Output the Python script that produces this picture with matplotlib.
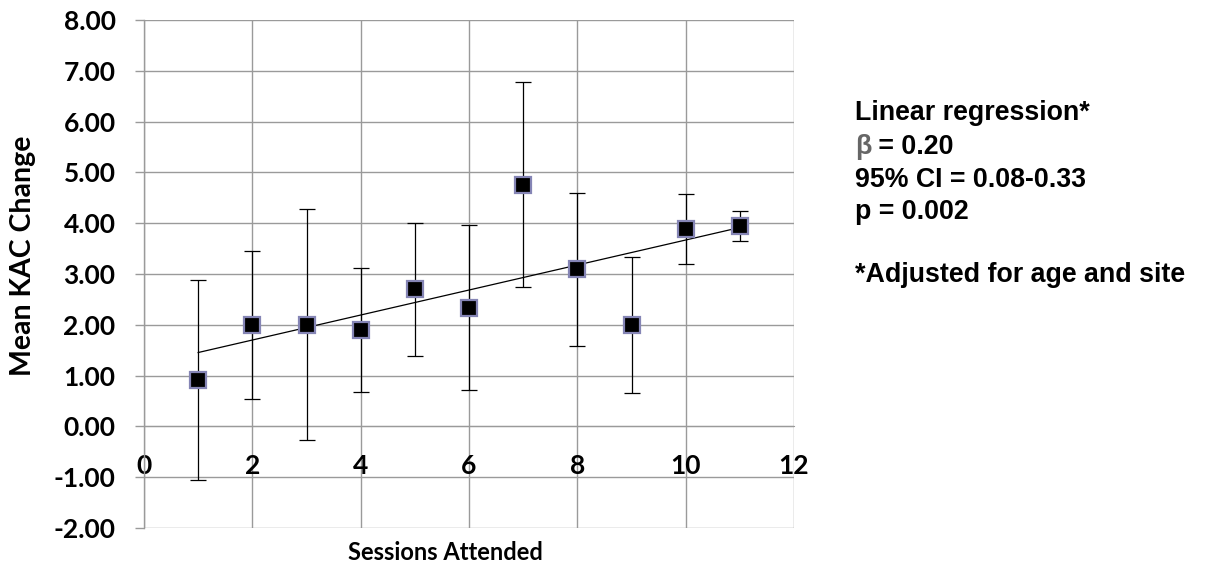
import numpy as np
import matplotlib.pyplot as plt

# sessions attended vs mean KAC change (error bars symmetric)
sessions = [1, 2, 3, 4, 5, 6, 7, 8, 9, 10, 11]
mean_change = [0.92, 2.00, 2.00, 1.90, 2.70, 2.34, 4.76, 3.09, 1.99, 3.89, 3.94]
err = [1.97, 1.46, 2.27, 1.22, 1.31, 1.62, 2.02, 1.51, 1.34, 0.69, 0.30]

y_ticks = [-2, -1, 0, 1, 2, 3, 4, 5, 6, 7, 8]
x_ticks = [0, 2, 4, 6, 8, 10, 12]

notes = ["Linear regression*", "\u03b2 = 0.20", "95% CI = 0.08-0.33",
         "p = 0.002", "*Adjusted for age and site"]

grid_col = "#9a9a9a"

fig = plt.figure(figsize=(12.06, 5.70), dpi=100)
ax = fig.add_axes([144 / 1206, 42 / 570, 650 / 1206, 508 / 570])

ax.set_xlim(0, 12)
ax.set_ylim(-2, 8)
ax.set_xticks(x_ticks)
ax.set_yticks(y_ticks)
ax.grid(True, color=grid_col, lw=1.0)
ax.set_axisbelow(True)

for s in ["top", "right"]:
    ax.spines[s].set_visible(False)
ax.spines["left"].set_color(grid_col)
ax.spines["left"].set_linewidth(1.0)

ax.set_yticklabels(["%.2f" % v for v in y_ticks])
ax.tick_params(axis="y", direction="out", length=6.5, width=1.0, color=grid_col, pad=14)
# x labels sit just under the zero line, like the Excel axis crossing
ax.spines["bottom"].set_position(("data", 0))
ax.spines["bottom"].set_color(grid_col)
ax.tick_params(axis="x", direction="out", length=0, pad=20)

for lab in ax.get_xticklabels() + ax.get_yticklabels():
    lab.set_fontfamily("Lato")
    lab.set_fontweight("bold")
    lab.set_fontsize(19)

# trend line from least squares on the means
b, a = np.polyfit(sessions, mean_change, 1)
xs = np.array([sessions[0], sessions[-1]])
ax.plot(xs, a + b * xs, color="black", lw=0.9, zorder=3)

ax.errorbar(sessions, mean_change, yerr=err, fmt="none", ecolor="black",
            elinewidth=0.9, capsize=5.8, capthick=0.9, zorder=4)
ax.plot(sessions, mean_change, "s", color="black", ms=11.5,
        mec="#8585b5", mew=1.6, zorder=5)

fig.text(23 / 1206, 1 - 256 / 570, "Mean KAC Change", rotation=90, ha="center", va="center",
         fontfamily="Lato", fontweight="bold", fontsize=20.5)
fig.text(445 / 1206, 1 - 553 / 570, "Sessions Attended", ha="center", va="center",
         fontfamily="Lato", fontweight="bold", fontsize=17)

# regression notes on the right
ys = [113, 147, 180, 212, 275]
fs = 19.3
fig.canvas.draw()
r = fig.canvas.get_renderer()
for txt, yy in zip(notes, ys):
    if txt.startswith("\u03b2"):
        t = fig.text(855 / 1206, 1 - yy / 570, "\u03b2", ha="left", va="center",
                     fontfamily="Liberation Sans", fontweight="bold", fontsize=fs, color="#666666")
        bb = t.get_window_extent(renderer=r)
        fig.text(bb.x1 / 1206, 1 - yy / 570, " = 0.20", ha="left", va="center",
                 fontfamily="Liberation Sans", fontweight="bold", fontsize=fs)
    else:
        fig.text(855 / 1206, 1 - yy / 570, txt, ha="left", va="center",
                 fontfamily="Liberation Sans", fontweight="bold", fontsize=fs)

fig.savefig("out.png", dpi=100)
